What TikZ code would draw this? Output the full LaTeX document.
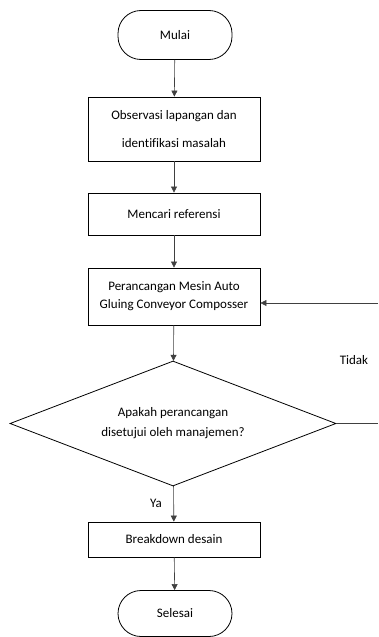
\documentclass[tikz,border=0pt]{standalone}
\usepackage{fontspec}
\setmainfont{Carlito}[Ligatures=CommonOff]
\usetikzlibrary{shapes.geometric,arrows.meta}

\begin{document}
\begin{tikzpicture}[x=1pt,y=-1pt,
    font=\fontsize{13}{18}\selectfont,
    terminal/.style={draw,line width=.8pt,rounded corners=23pt,minimum width=114pt,minimum height=47pt,inner sep=0pt},
    process/.style={draw,line width=.8pt,minimum width=172pt,inner sep=0pt,align=center},
    decision/.style={draw,line width=.8pt,diamond,aspect=2.6,minimum width=326pt,minimum height=125pt,inner sep=0pt,align=center},
    line/.style={line width=.6pt,draw=black!75},
    arrow/.style={line,-{Triangle[length=6pt,width=6pt]}}]
    \useasboundingbox (0,0) rectangle (378,637);

    \node[terminal,minimum height=49pt] (mulai) at (175,35) {Mulai};
    \node[process,minimum height=64pt] (observasi) at (174,129) {Observasi lapangan dan\\[10pt]identifikasi masalah};
    \node[process,minimum height=42pt] (referensi) at (174,214) {Mencari referensi};
    \node[process,minimum height=57pt] (perancangan) at (174,296.5) {Perancangan Mesin Auto\\Gluing Conveyor Composser};
    \node[decision] (apakah) at (173,423.5) {Apakah perancangan\\[2pt]disetujui oleh manajemen?};
    \node[process,minimum height=35pt] (breakdown) at (174,539.5) {Breakdown desain};
    \node[terminal,minimum height=46pt] (selesai) at (175,613.5) {Selesai};

    \node (ya) at (156,503) {Ya};
    \node (tidak) at (354,360) {Tidak};
    \coordinate (kanan1) at (378,423.5);
    \coordinate (kanan2) at (378,303);

    \path (mulai) edge[arrow] (observasi)
          (observasi) edge[arrow] (referensi)
          (referensi) edge[arrow] (perancangan)
          (perancangan) edge[arrow] (apakah)
          (apakah) edge[arrow] (breakdown)
          (breakdown) edge[arrow] (selesai)
          (kanan2) edge[arrow] (kanan2 -| perancangan.east)
          (apakah.east) edge[line] (kanan1);

  \end{tikzpicture}
\end{document}
